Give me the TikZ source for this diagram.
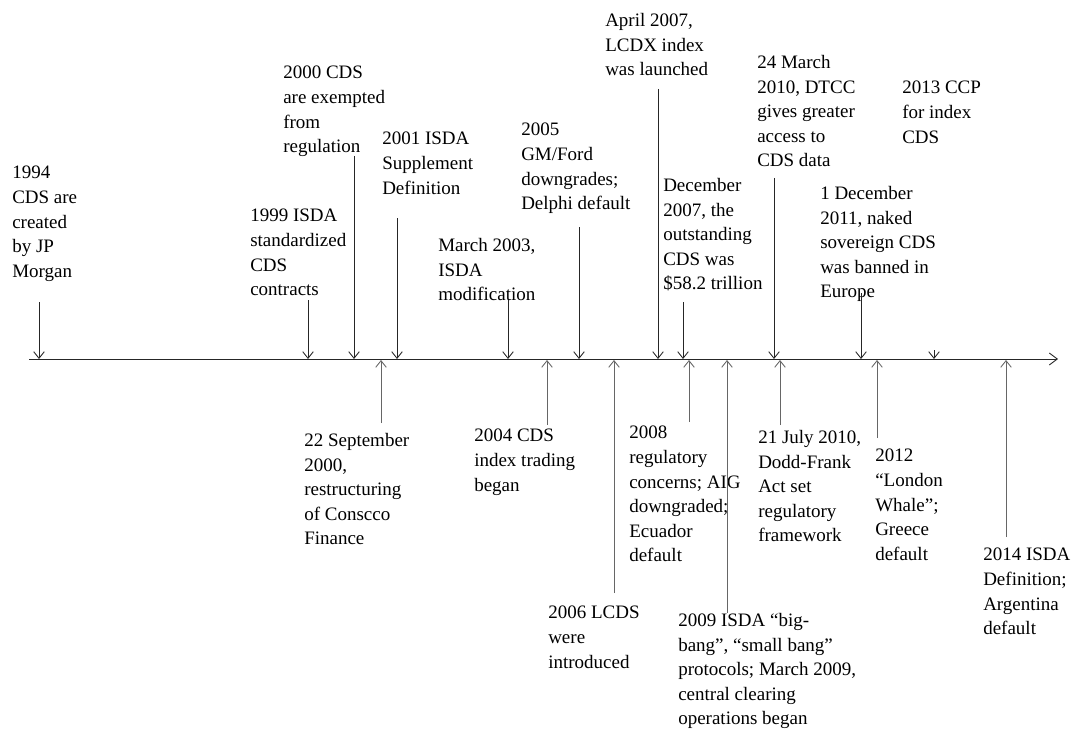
\documentclass[tikz,border=0pt]{standalone}
\usepackage{fontspec}
\setmainfont{Liberation Serif}
\usetikzlibrary{arrows.meta}
\tikzset{
  event/.style={anchor=north west, inner sep=0pt, align=left,
                font=\fontsize{14.25pt}{18.45pt}\selectfont},
  down/.style={-{Straight Barb[length=5pt,width=8pt]}, line width=0.65pt, black!85},
  up/.style={-{Straight Barb[length=5pt,width=8pt]}, line width=0.65pt, black!60},
  axis/.style={-{Straight Barb[length=6pt,width=9pt]}, line width=0.65pt, black!85},
}

\begin{document}
\begin{tikzpicture}[x=0.75pt, y=-0.75pt]
  \useasboundingbox (0,0) rectangle (1074,731);
  % time axis
  \coordinate (axL) at (29,359);
  \coordinate (axR) at (1058,359);
  \draw[axis] (axL) -- (axR);

  % events above the axis
  \node[event] (y1994) at (12,166) {1994\\CDS are\\created\\by JP\\Morgan};
  \node[event] (y1999) at (250,209) {1999 ISDA\\standardized\\CDS\\contracts};
  \node[event] (y2000) at (283,66) {2000 CDS\\are exempted\\from\\regulation};
  \node[event] (y2001) at (382,132) {2001 ISDA\\Supplement\\Definition};
  \node[event] (y2003) at (438,238) {March 2003,\\ISDA\\modification};
  \node[event] (y2005) at (521,123) {2005\\GM/Ford\\downgrades;\\Delphi default};
  \node[event] (y2007a) at (605,13) {April 2007,\\LCDX index\\was launched};
  \node[event] (y2007b) at (663,178) {December\\2007, the\\outstanding\\CDS was\\\$58.2 trillion};
  \node[event] (y2010a) at (757,55) {24 March\\2010, DTCC\\gives greater\\access to\\CDS data};
  \node[event] (y2011) at (820,186) {1 December\\2011, naked\\sovereign CDS\\was banned in\\Europe};
  \node[event] (y2013) at (902,81) {2013 CCP\\for index\\CDS};

  % events below the axis
  \node[event] (y2000s) at (304,433) {22 September\\2000,\\restructuring\\of Conscco\\Finance};
  \node[event] (y2004) at (474,429) {2004 CDS\\index trading\\began};
  \node[event] (y2006) at (548,606) {2006 LCDS\\were\\introduced};
  \node[event] (y2008) at (629,426) {2008\\regulatory\\concerns; AIG\\downgraded;\\Ecuador\\default};
  \node[event] (y2009) at (678,613) {2009 ISDA “big-\\bang”, “small bang”\\protocols; March 2009,\\central clearing\\operations began};
  \node[event] (y2010b) at (758,430) {21 July 2010,\\Dodd-Frank\\Act set\\regulatory\\framework};
  \node[event] (y2012) at (875,449) {2012\\“London\\Whale”;\\Greece\\default};
  \node[event] (y2014) at (983,548) {2014 ISDA\\Definition;\\Argentina\\default};

  % arrow ends
  \coordinate (a1994) at (39,302);   \coordinate (t1994) at (39,359);
  \coordinate (a1999) at (308,300);  \coordinate (t1999) at (308,359);
  \coordinate (a2000) at (354,156);  \coordinate (t2000) at (354,359);
  \coordinate (a2001) at (397,218);  \coordinate (t2001) at (397,359);
  \coordinate (a2003) at (508,300);  \coordinate (t2003) at (508,359);
  \coordinate (a2005) at (579,227);  \coordinate (t2005) at (579,359);
  \coordinate (a2007a) at (658,89);  \coordinate (t2007a) at (658,359);
  \coordinate (a2007b) at (683,302); \coordinate (t2007b) at (683,359);
  \coordinate (a2010a) at (774,178); \coordinate (t2010a) at (774,359);
  \coordinate (a2011) at (861,293);  \coordinate (t2011) at (861,359);
  \coordinate (a2013) at (934,350);  \coordinate (t2013) at (934,359);

  \coordinate (a2000s) at (381,423); \coordinate (t2000s) at (381,360);
  \coordinate (a2004) at (547,425);  \coordinate (t2004) at (547,360);
  \coordinate (a2006) at (614,593);  \coordinate (t2006) at (614,360);
  \coordinate (a2008) at (689,422);  \coordinate (t2008) at (689,360);
  \coordinate (a2009) at (727,613);  \coordinate (t2009) at (727,360);
  \coordinate (a2010b) at (780,425); \coordinate (t2010b) at (780,360);
  \coordinate (a2012) at (877,438);  \coordinate (t2012) at (877,360);
  \coordinate (a2014) at (1006,537); \coordinate (t2014) at (1006,360);

  \draw[down] (a1994) -- (t1994);
  \draw[down] (a1999) -- (t1999);
  \draw[down] (a2000) -- (t2000);
  \draw[down] (a2001) -- (t2001);
  \draw[down] (a2003) -- (t2003);
  \draw[down] (a2005) -- (t2005);
  \draw[down] (a2007a) -- (t2007a);
  \draw[down] (a2007b) -- (t2007b);
  \draw[down] (a2010a) -- (t2010a);
  \draw[down] (a2011) -- (t2011);
  \draw[down] (a2013) -- (t2013);

  \draw[up] (a2000s) -- (t2000s);
  \draw[up] (a2004) -- (t2004);
  \draw[up] (a2006) -- (t2006);
  \draw[up] (a2008) -- (t2008);
  \draw[up] (a2009) -- (t2009);
  \draw[up] (a2010b) -- (t2010b);
  \draw[up] (a2012) -- (t2012);
  \draw[up] (a2014) -- (t2014);
\end{tikzpicture}
\end{document}
